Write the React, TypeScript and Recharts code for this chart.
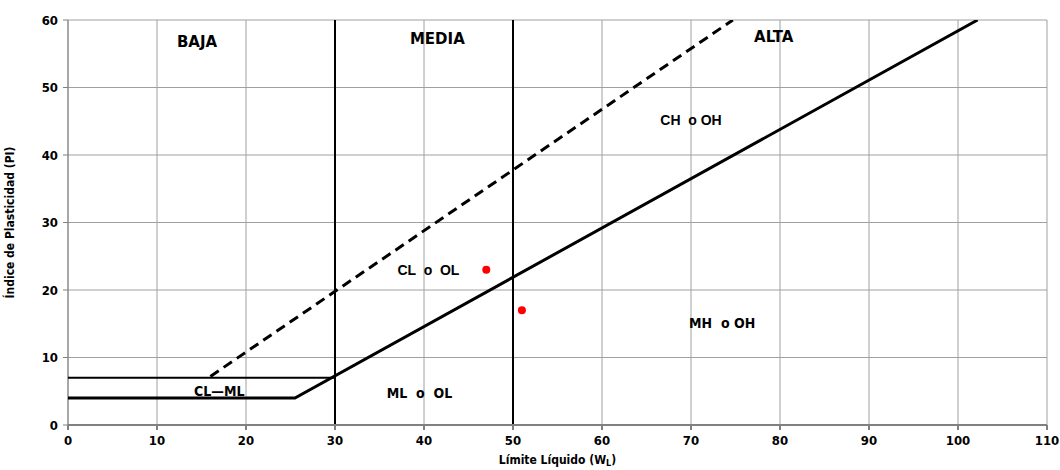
import React from 'react';
import { ComposedChart, Scatter, XAxis, YAxis, CartesianGrid, ReferenceLine } from 'recharts';

const xTicks = [0, 10, 20, 30, 40, 50, 60, 70, 80, 90, 100, 110];
const yTicks = [0, 10, 20, 30, 40, 50, 60];

// Linea A (con el tramo horizontal en PI = 4)
const lineaA = [
  { ll: 0, pi: 4 },
  { ll: 25.5, pi: 4 },
  { ll: 102.2, pi: 60 },
];
// limite superior de la zona CL-ML
const lineaCLML = [
  { ll: 0, pi: 7 },
  { ll: 30, pi: 7 },
];
// Linea U (punteada)
const lineaU = [
  { ll: 16, pi: 7.2 },
  { ll: 74.7, pi: 60 },
];
// muestras ensayadas
const muestras = [
  { ll: 47, pi: 23 },
  { ll: 51, pi: 17 },
];
// limites de compresibilidad
const limitesLL = [30, 50];

const zonasComp = [
  { name: 'BAJA', ll: 14.5, pi: 56.7 },
  { name: 'MEDIA', ll: 41.5, pi: 57.2 },
  { name: 'ALTA', ll: 79.3, pi: 57.5 },
];
const zonasSuelo = [
  { name: 'CH  o OH', ll: 70, pi: 45.2 },
  { name: 'CL  o  OL', ll: 40.5, pi: 22.9 },
];
const zonasSueloAngostas = [
  { name: 'MH  o OH', ll: 73.5, pi: 15.1 },
  { name: 'ML  o  OL', ll: 39.5, pi: 4.8 },
  { name: 'CL—ML', ll: 17, pi: 5.1 },
];

const narrow = '"DejaVu Sans Condensed", "Liberation Sans Narrow", "Arial Narrow", sans-serif';
const wide = '"DejaVu Sans", Verdana, sans-serif';
const sans = '"Liberation Sans", Arial, sans-serif';

const noDot = () => <g />;

const ZoneText = (fontFamily: string, fontSize: number) => (props: any) => (
  <text
    x={props.cx}
    y={props.cy}
    textAnchor="middle"
    dominantBaseline="central"
    fontFamily={fontFamily}
    fontWeight="bold"
    fontSize={fontSize}
    fill="#000"
    style={{ whiteSpace: 'pre' }}
  >
    {props.payload.name}
  </text>
);

const RedDot = (props: any) => <circle cx={props.cx} cy={props.cy} r={4} fill="#ff0000" />;

const XLabel = (props: any) => {
  const vb = props.viewBox;
  return (
    <text
      x={vb.x + vb.width / 2}
      y={vb.y + 39}
      textAnchor="middle"
      fontFamily={narrow}
      fontWeight="bold"
      fontSize={12}
      fill="#000"
    >
      Límite Líquido (W<tspan fontSize={9} dy={2}>L</tspan>
      <tspan dy={-2}>)</tspan>
    </text>
  );
};

const tickStyle = { fill: '#000', fontSize: 13, fontWeight: 'bold', fontFamily: narrow };

export default function App() {
  return (
    <div style={{ position: 'absolute', left: 0, top: 0, width: 1060, height: 470, background: '#fff' }}>
      <ComposedChart width={1060} height={470} margin={{ top: 20, right: 13, left: 0, bottom: 0 }}>
        <CartesianGrid stroke="#a0a0a0" strokeWidth={1} verticalValues={xTicks} horizontalValues={yTicks} />
        <XAxis
          type="number"
          dataKey="ll"
          domain={[0, 110]}
          ticks={xTicks}
          allowDataOverflow
          height={45}
          stroke="#808080"
          strokeWidth={2}
          tickSize={5}
          tickMargin={6}
          tick={tickStyle}
          label={<XLabel />}
        />
        <YAxis
          type="number"
          dataKey="pi"
          domain={[0, 60]}
          ticks={yTicks}
          allowDataOverflow
          width={68}
          stroke="#808080"
          tickSize={5}
          tickMargin={5}
          tick={tickStyle}
          label={{
            value: 'Índice de Plasticidad (PI)',
            angle: -90,
            position: 'insideLeft',
            offset: 10,
            style: { textAnchor: 'middle', fontFamily: narrow, fontWeight: 'bold', fontSize: 12, fill: '#000' },
          }}
        />
        {limitesLL.map((v) => (
          <ReferenceLine key={v} x={v} stroke="#000" strokeWidth={2} />
        ))}
        <Scatter data={lineaCLML} line={{ stroke: '#000', strokeWidth: 2 }} shape={noDot} isAnimationActive={false} />
        <Scatter data={lineaA} line={{ stroke: '#000', strokeWidth: 3 }} shape={noDot} isAnimationActive={false} />
        <Scatter
          data={lineaU}
          line={{ stroke: '#000', strokeWidth: 3, strokeDasharray: '10 6' }}
          shape={noDot}
          isAnimationActive={false}
        />
        <Scatter data={muestras} shape={RedDot} isAnimationActive={false} />
        <Scatter data={zonasComp} shape={ZoneText(wide, 15)} isAnimationActive={false} />
        <Scatter data={zonasSuelo} shape={ZoneText(sans, 14)} isAnimationActive={false} />
        <Scatter data={zonasSueloAngostas} shape={ZoneText(narrow, 14)} isAnimationActive={false} />
      </ComposedChart>
    </div>
  );
}
